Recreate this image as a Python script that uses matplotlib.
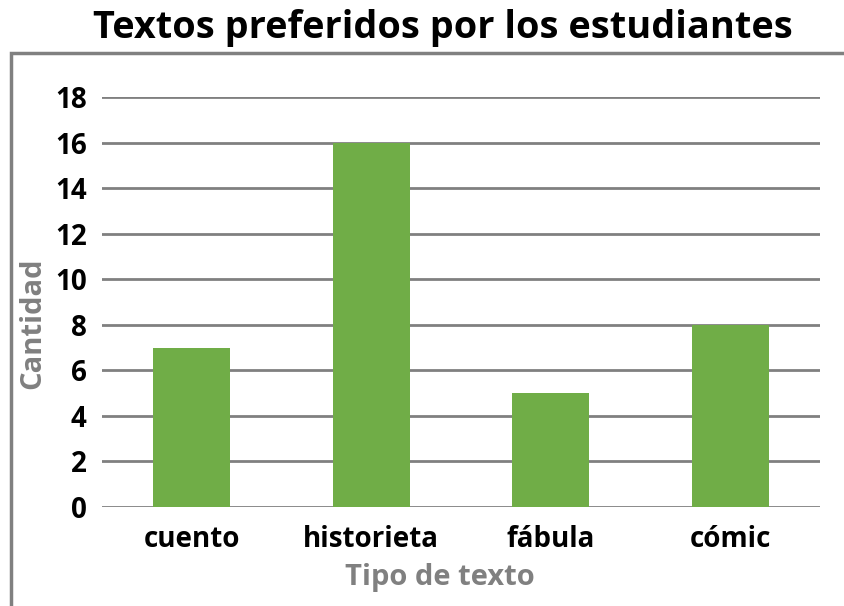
import matplotlib.pyplot as plt
from matplotlib.patches import Rectangle

tipos = ["cuento", "historieta", "fábula", "cómic"]
cantidad = [7, 16, 5, 8]
ticks_y = [0, 2, 4, 6, 8, 10, 12, 14, 16, 18]

verde = "#70AD47"
gris = "#808080"
plt.rcParams['font.family'] = ['Open Sans', 'DejaVu Sans']

fig = plt.figure(figsize=(8.44, 6.06), dpi=100)
ax = fig.add_axes([102 / 844, 1 - 507 / 606, 718 / 844, 410 / 606])

# marco gris alrededor del gráfico
fig.patches.append(Rectangle((11 / 844, -0.05), 1.2, 0.05 + 1 - 53 / 606,
                             transform=fig.transFigure, fill=False,
                             edgecolor=gris, linewidth=2.5))

ax.bar(tipos, cantidad, width=0.43, color=verde, zorder=3)
ax.set_xlim(-0.5, 3.5)
ax.set_ylim(0, 18)
ax.set_yticks(ticks_y)
ax.grid(axis='y', color=gris, linewidth=2, zorder=0)
for s in ax.spines.values():
    s.set_visible(False)
ax.tick_params(length=0, labelsize=20)
ax.tick_params(axis='x', pad=13)
ax.tick_params(axis='y', pad=11)
for lbl in ax.get_xticklabels() + ax.get_yticklabels():
    lbl.set_fontweight('bold')
    lbl.set_color('black')

ax.set_ylabel("Cantidad", fontsize=21, fontweight='bold', color=gris)
ax.yaxis.set_label_coords((33 - 102) / 718, (507 - 323) / 410)
ax.set_xlabel("Tipo de texto", fontsize=21, fontweight='bold', color=gris)
ax.xaxis.set_label_coords((440 - 102) / 718, -(578 - 507) / 410)
ax.xaxis.label.set_va('center')
ax.yaxis.label.set_va('center')
fig.text(443 / 844, 1 - 28 / 606, "Textos preferidos por los estudiantes",
         ha='center', va='center', fontsize=27.3, fontweight='bold')

fig.savefig("out.png", dpi=100)
